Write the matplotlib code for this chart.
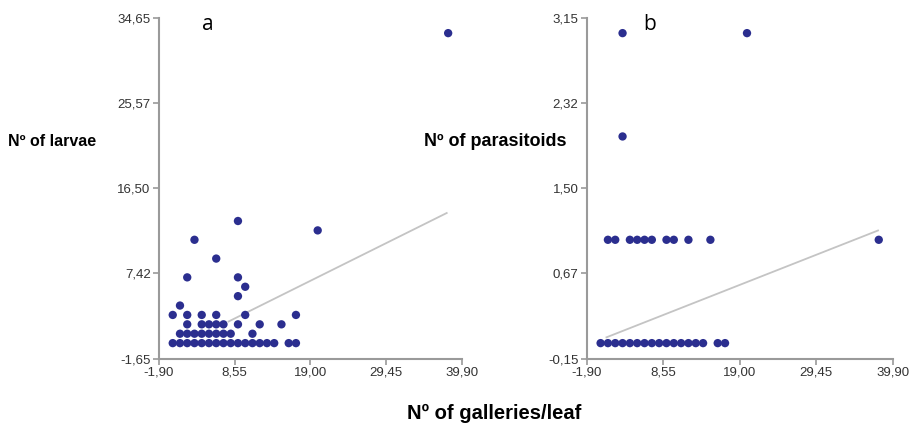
import matplotlib.pyplot as plt

plt.rcParams['font.family'] = ['Liberation Sans', 'DejaVu Sans']

# panel a: galleries per leaf vs number of larvae
larvae_x = [0, 1, 2, 3, 4, 5, 6, 7, 8, 9, 10, 11, 12, 13, 14, 16, 17,
            1, 2, 3, 4, 5, 6, 7, 8, 11,
            2, 4, 5, 6, 7, 9, 12, 15,
            0, 2, 4, 6, 10, 17,
            1, 9, 10, 2, 9, 6, 3, 20, 9, 38]
larvae_y = [0, 0, 0, 0, 0, 0, 0, 0, 0, 0, 0, 0, 0, 0, 0, 0, 0,
            1, 1, 1, 1, 1, 1, 1, 1, 1,
            2, 2, 2, 2, 2, 2, 2, 2,
            3, 3, 3, 3, 3, 3,
            4, 5, 6, 7, 7, 9, 11, 12, 13, 33]
fit_a_x = [7.7, 37.8]
fit_a_y = [2.3, 13.85]

# panel b: galleries per leaf vs number of parasitoids
paras_x = [0, 1, 2, 3, 4, 5, 6, 7, 8, 9, 10, 11, 12, 13, 14, 16, 17,
           1, 2, 4, 5, 6, 7, 9, 10, 12, 15, 38,
           3, 3, 20]
paras_y = [0, 0, 0, 0, 0, 0, 0, 0, 0, 0, 0, 0, 0, 0, 0, 0, 0,
           1, 1, 1, 1, 1, 1, 1, 1, 1, 1, 1,
           2, 3, 3]
fit_b_x = [0.8, 37.9]
fit_b_y = [0.056, 1.09]

x_ticks = [-1.90, 8.55, 19.00, 29.45, 39.90]
a_ticks = [-1.65, 7.425, 16.50, 25.575, 34.65]
a_labels = ['-1,65', '7,42', '16,50', '25,57', '34,65']
b_ticks = [-0.15, 0.675, 1.50, 2.325, 3.15]
b_labels = ['-0,15', '0,67', '1,50', '2,32', '3,15']
x_labels = ['-1,90', '8,55', '19,00', '29,45', '39,90']

dot = '#2b2e8f'
grey = '#9a9a9a'

fig = plt.figure(figsize=(9.12, 4.30), dpi=100)
ax_a = fig.add_axes([0.1743, 0.166, 0.3322, 0.793])
ax_b = fig.add_axes([0.6433, 0.166, 0.3355, 0.793])

panels = [(ax_a, larvae_x, larvae_y, fit_a_x, fit_a_y, a_ticks, a_labels, 'a', 0.142),
          (ax_b, paras_x, paras_y, fit_b_x, fit_b_y, b_ticks, b_labels, 'b', 0.184)]

for ax, xs, ys, fx, fy, yt, yl, tag, tx in panels:
    ax.plot(fx, fy, color='#c4c4c4', lw=1.3, zorder=1)
    ax.scatter(xs, ys, s=36, color=dot, edgecolors='none', zorder=2, clip_on=False)
    ax.set_xlim(x_ticks[0], x_ticks[-1])
    ax.set_ylim(yt[0], yt[-1])
    ax.set_xticks(x_ticks)
    ax.set_xticklabels(x_labels)
    ax.set_yticks(yt)
    ax.set_yticklabels(yl)
    for s in ['top', 'right']:
        ax.spines[s].set_visible(False)
    for s in ['left', 'bottom']:
        ax.spines[s].set_color(grey)
        ax.spines[s].set_linewidth(1.5)
    ax.tick_params(direction='out', length=4, width=1.2, color=grey,
                   labelsize=9.5, labelcolor='#333333', pad=2)
    ax.text(tx, 0.98, tag, transform=ax.transAxes,
            fontsize=15, va='center', ha='left', family=['Open Sans', 'DejaVu Sans'])

fig.text(8 / 912, 1 - 141 / 430, 'Nº of larvae', fontsize=11.5, fontweight='bold',
         ha='left', va='center')
fig.text(424 / 912, 1 - 141 / 430, 'Nº of parasitoids', fontsize=13, fontweight='bold',
         ha='left', va='center')
fig.text(494 / 912, 1 - 413 / 430, 'Nº of galleries/leaf', fontsize=14.5, fontweight='bold',
         ha='center', va='center')

fig.savefig('out.png', dpi=100)
